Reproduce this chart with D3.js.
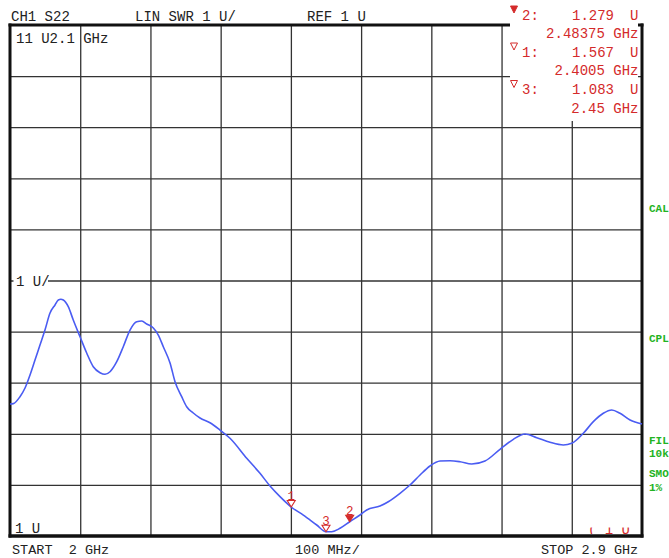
<!DOCTYPE html>
<html><head><meta charset="utf-8">
<script src="https://cdn.jsdelivr.net/npm/d3@7/dist/d3.min.js"></script>
<style>html,body{margin:0;padding:0;background:#fff;overflow:hidden}svg{display:block}text{white-space:pre}</style>
</head><body><div id="chart"></div>
<script>
// ---- data ----
const freqGHz = [2.000, 2.0047, 2.0142, 2.0214, 2.0285, 2.0356, 2.0427, 2.0498, 2.0570, 2.0641,
  2.0688, 2.0724, 2.0759, 2.0830, 2.0901, 2.0997, 2.1092, 2.1186, 2.1282, 2.1353,
  2.1424, 2.1520, 2.1613, 2.1709, 2.1804, 2.1876, 2.1947, 2.2041, 2.2112, 2.2183,
  2.2279, 2.2350, 2.2445, 2.2516, 2.2610, 2.2706, 2.2848, 2.2991, 2.3133, 2.3371,
  2.3560, 2.3703, 2.3845, 2.4005, 2.4177, 2.4368, 2.4500, 2.4581, 2.4700, 2.48375,
  2.4984, 2.5080, 2.5269, 2.5387, 2.5554, 2.5696, 2.5839, 2.5981, 2.6124, 2.6266,
  2.6409, 2.6575, 2.6764, 2.6978, 2.7168, 2.7334, 2.7501, 2.7690, 2.7880, 2.7999,
  2.8164, 2.8307, 2.8449, 2.8569, 2.8687, 2.8830, 2.9000];
const swrU = [3.583, 3.590, 3.726, 3.896, 4.151, 4.444, 4.738, 5.031, 5.364, 5.521,
  5.618, 5.632, 5.618, 5.487, 5.227, 4.900, 4.581, 4.313, 4.196, 4.164,
  4.215, 4.411, 4.704, 5.031, 5.194, 5.207, 5.149, 5.070, 4.933, 4.704,
  4.386, 4.020, 3.726, 3.530, 3.407, 3.309, 3.217, 3.074, 2.912, 2.521,
  2.227, 1.978, 1.770, 1.567, 1.410, 1.215, 1.083, 1.084, 1.151, 1.279,
  1.411, 1.509, 1.587, 1.671, 1.836, 1.998, 2.194, 2.370, 2.468, 2.474,
  2.454, 2.409, 2.468, 2.697, 2.892, 2.996, 2.924, 2.834, 2.781, 2.814,
  3.010, 3.237, 3.401, 3.466, 3.401, 3.270, 3.192];
const xGridGHz = [2.1, 2.2, 2.3, 2.4, 2.5, 2.6, 2.7, 2.8];
const yGridU = [2, 3, 4, 5, 6, 7, 8, 9, 10];
const markerIds = ["1", "2", "3"];
const markerFreq = [2.4005, 2.48375, 2.45];
const markerSwr = [1.567, 1.279, 1.083];
const markerSwrText = ["1.567", "1.279", "1.083"];
const markerFreqText = ["2.4005 GHz", "2.48375 GHz", "2.45 GHz"];
const markerActive = [false, true, false];
const markerListOrder = [1, 0, 2];
const headerTexts = ["CH1 S22", "LIN SWR 1 U/", "REF 1 U"];
const footerTexts = ["START  2 GHz", "100 MHz/", "STOP 2.9 GHz"];
const sideTexts = ["CAL", "CPL", "FIL", "10k", "SMO", "1%"];

// ---- layout ----
const W = 669, H = 558;
const L = 10, R = 642, T = 25, B = 536;
const FONT = "'Liberation Mono', 'DejaVu Sans Mono', monospace";
const RED = "#d42a2a", GREEN = "#22b322", BLUE = "#4a5cf2", INK = "#222";

const x = d3.scaleLinear().domain([2, 2.9]).range([L, R]);
const y = d3.scaleLinear().domain([1, 11]).range([B, T]);

const svg = d3.select("#chart").append("svg").attr("width", W).attr("height", H);
svg.append("rect").attr("width", W).attr("height", H).attr("fill", "#fff");

// grid via axes
const gx = svg.append("g").attr("transform", `translate(0,${B})`)
  .call(d3.axisBottom(x).tickValues(xGridGHz).tickSize(-(B - T)).tickFormat(""));
const gy = svg.append("g").attr("transform", `translate(${L},0)`)
  .call(d3.axisLeft(y).tickValues(yGridU).tickSize(-(R - L)).tickFormat(""));
[gx, gy].forEach(g => {
  g.select(".domain").remove();
  g.selectAll(".tick line").attr("stroke", "#333").attr("stroke-width", 1.3);
});

// frame
const frame = svg.append("g").attr("stroke", "#111").attr("fill", "none");
frame.append("line").attr("x1", L).attr("x2", L).attr("y1", T - 1.5).attr("y2", B + 1.5).attr("stroke-width", 3);
frame.append("line").attr("x1", R).attr("x2", R).attr("y1", T - 1.5).attr("y2", B + 1.5).attr("stroke-width", 3);
frame.append("line").attr("x1", L - 1.5).attr("x2", R + 1.5).attr("y1", T).attr("y2", T).attr("stroke-width", 3);
frame.append("line").attr("x1", L - 1.5).attr("x2", R + 1.5).attr("y1", B).attr("y2", B).attr("stroke-width", 3.5);

// trace
const pts = freqGHz.map((f, i) => [f, swrU[i]]);
svg.append("path").datum(pts)
  .attr("fill", "none").attr("stroke", BLUE).attr("stroke-width", 1.6)
  .attr("d", d3.line().x(d => x(d[0])).y(d => y(d[1])).curve(d3.curveMonotoneX));

function text(g, px, py, s, opt = {}) {
  return g.append("text").attr("x", px).attr("y", py).text(s)
    .attr("xml:space", "preserve")
    .attr("font-family", FONT).attr("font-size", opt.size || 14)
    .attr("fill", opt.fill || INK).attr("text-anchor", opt.anchor || "start");
}

// marker triangles on trace
const tri = (cx, tipY, w, h) => `M${cx - w / 2},${tipY - h}L${cx + w / 2},${tipY - h}L${cx},${tipY}Z`;
markerIds.forEach((id, i) => {
  const mx = x(markerFreq[i]), my = y(markerSwr[i]);
  svg.append("path").attr("d", tri(mx, my, 8, 6.5))
    .attr("fill", markerActive[i] ? RED : "#fff").attr("stroke", RED).attr("stroke-width", 1.1);
  text(svg, mx, my - 7, id, { size: 12.5, fill: RED, anchor: "middle" });
});

// marker readout box
svg.append("rect").attr("x", 510).attr("y", 0).attr("width", 128).attr("height", 121).attr("fill", "#fff");
const rowY = [19.5, 56.5, 94];
markerListOrder.forEach((mi, r) => {
  const by = rowY[r];
  svg.append("path").attr("d", tri(514, by - 6.5, 7, 7))
    .attr("fill", markerActive[mi] ? RED : "#fff").attr("stroke", RED).attr("stroke-width", 1);
  text(svg, 522, by, markerIds[mi] + ":", { fill: RED });
  text(svg, 614, by, markerSwrText[mi], { fill: RED, anchor: "end" });
  text(svg, 630, by, "U", { fill: RED });
  text(svg, 638.5, by + 18.5, markerFreqText[mi], { fill: RED, anchor: "end" });
});

// header / footer
text(svg, 11, 20.5, headerTexts[0]);
text(svg, 135, 20.5, headerTexts[1]);
text(svg, 307, 20.5, headerTexts[2]);
text(svg, 12, 554, footerTexts[0], { size: 13.5 });
text(svg, 295, 554, footerTexts[1], { size: 13.5 });
text(svg, 541, 554, footerTexts[2], { size: 13.5 });

// in-plot scale labels
text(svg, 16, 43, "11 U2.1 GHz");
svg.append("rect").attr("x", 13.5).attr("y", 275).attr("width", 34.5).attr("height", 13).attr("fill", "#fff");
text(svg, 16, 286, "1 U/");
text(svg, 15, 533, "1 U");

// clipped red reference readout at bottom right
svg.append("clipPath").attr("id", "clipRef").append("rect")
  .attr("x", 580).attr("y", 527.5).attr("width", 60).attr("height", 6.5);
text(svg, 588, 533.5, "( 1 U", { fill: RED }).attr("clip-path", "url(#clipRef)");

// green side annotations
const sideY = [212, 342, 444, 457, 477, 491];
sideTexts.forEach((s, i) => text(svg, 649, sideY[i], s, { size: 11, fill: GREEN }).attr("font-weight", "bold"));
</script>
</body></html>
